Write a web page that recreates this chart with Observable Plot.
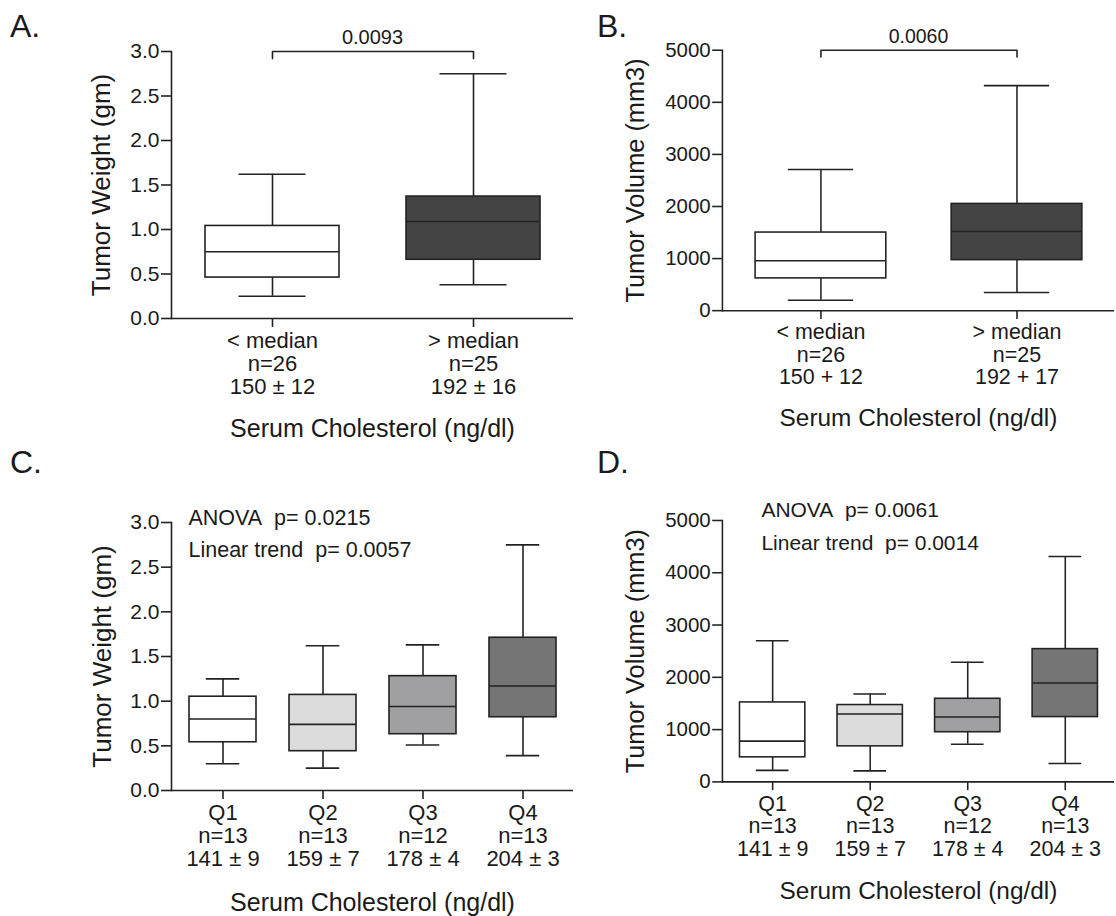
<!DOCTYPE html>
<html><head><meta charset="utf-8">
<script src="https://cdn.jsdelivr.net/npm/d3@7"></script>
<script src="https://cdn.jsdelivr.net/npm/@observablehq/plot@0.6"></script>
<style>
html,body{margin:0;padding:0;background:#fff;overflow:hidden}
#fig{position:relative;width:1116px;height:916px;overflow:hidden;font-family:"Liberation Sans",Arial,Helvetica,sans-serif;color:#1a1a1a;background:#fff}
.panel{position:absolute}
.panel svg{overflow:visible}
.letter{position:absolute;font-size:32px;line-height:1}
</style></head><body><div id="fig"></div>
<script>
// ---------- data ----------
const medianGroups = ["< median", "> median"];
const medianN = ["n=26", "n=25"];
const medianCholA = ["150 ± 12", "192 ± 16"];
const medianCholB = ["150 + 12", "192 + 17"];
const medianFills = ["#ffffff", "#444444"];

const weightA_min = [0.25, 0.38];
const weightA_q1  = [0.46, 0.66];
const weightA_med = [0.75, 1.09];
const weightA_q3  = [1.04, 1.37];
const weightA_max = [1.62, 2.75];

const volumeB_min = [200, 350];
const volumeB_q1  = [620, 970];
const volumeB_med = [960, 1520];
const volumeB_q3  = [1500, 2050];
const volumeB_max = [2710, 4320];

const quartGroups = ["Q1", "Q2", "Q3", "Q4"];
const quartN = ["n=13", "n=13", "n=12", "n=13"];
const quartChol = ["141 ± 9", "159 ± 7", "178 ± 4", "204 ± 3"];
const quartFills = ["#ffffff", "#dcdcdc", "#a0a0a2", "#757575"];

const weightC_min = [0.30, 0.25, 0.51, 0.39];
const weightC_q1  = [0.54, 0.44, 0.63, 0.82];
const weightC_med = [0.80, 0.74, 0.94, 1.17];
const weightC_q3  = [1.05, 1.07, 1.28, 1.71];
const weightC_max = [1.25, 1.62, 1.63, 2.75];

const volumeD_min = [220, 210, 720, 350];
const volumeD_q1  = [470, 680, 950, 1240];
const volumeD_med = [780, 1300, 1240, 1890];
const volumeD_q3  = [1520, 1470, 1590, 2540];
const volumeD_max = [2700, 1680, 2290, 4310];

const weightTicks = [0, 0.5, 1.0, 1.5, 2.0, 2.5, 3.0];
const volumeTicks = [0, 1000, 2000, 3000, 4000, 5000];

const pA = "0.0093", pB = "0.0060";
const bracketA = [3.0, 2.92];   // bracket top, end drop
const bracketB = [5000, 4870];
const anovaC = "ANOVA\u00a0 p= 0.0215", trendC = "Linear trend\u00a0 p= 0.0057";
const anovaD = "ANOVA\u00a0 p= 0.0061", trendD = "Linear trend\u00a0 p= 0.0014";

const xTitle = "Serum Cholesterol (ng/dl)";
const ink = "#222", sw = 1.6;

// ---------- panel builder ----------
function panel(o) {
  const data = o.groups.map((g, i) => ({g, min: o.min[i], q1: o.q1[i], med: o.med[i], q3: o.q3[i], max: o.max[i], fill: o.fills[i]}));
  const lab = new Map(o.groups.map((g, i) => [g, [g, o.n[i], o.chol[i]].join("\n")]));
  const step = (o.width - o.marginLeft - o.marginRight) / o.groups.length;
  const cap = step * (2 / 3) / 4;
  const marks = [
    Plot.ruleX(data, {x: "g", y1: "min", y2: "q1", stroke: ink, strokeWidth: sw}),
    Plot.ruleX(data, {x: "g", y1: "q3", y2: "max", stroke: ink, strokeWidth: sw}),
    Plot.tickY(data, {x: "g", y: "min", insetLeft: cap, insetRight: cap, stroke: ink, strokeWidth: sw}),
    Plot.tickY(data, {x: "g", y: "max", insetLeft: cap, insetRight: cap, stroke: ink, strokeWidth: sw}),
    Plot.barY(data, {x: "g", y1: "q1", y2: "q3", fill: "fill", stroke: ink, strokeWidth: sw}),
    Plot.tickY(data, {x: "g", y: "med", stroke: ink, strokeWidth: sw}),
    Plot.frame({anchor: "left", stroke: ink, strokeWidth: sw}),
    Plot.ruleY([0], {stroke: ink, strokeWidth: sw}),
    Plot.axisY({ticks: o.yTicks, tickFormat: o.yFormat, tickSize: 10, tickPadding: 2, fontSize: 21, label: null, stroke: ink, strokeWidth: sw}),
    Plot.axisX({tickSize: 9, tickPadding: 4, tickFormat: d => lab.get(d), fontSize: 22, lineHeight: 1.05, label: null, stroke: ink, strokeWidth: sw}),
    Plot.text([o.yLabel], {frameAnchor: "left", textAnchor: "middle", lineAnchor: "middle", dx: o.yLabelDx, rotate: -90, fontSize: 26}),
    Plot.text([xTitle], {frameAnchor: "bottom", lineAnchor: "middle", dy: o.xLabelDy, fontSize: 25}),
    ...(o.extra || [])
  ];
  const el = Plot.plot({
    width: o.width, height: o.height,
    marginLeft: o.marginLeft, marginRight: o.marginRight, marginTop: o.marginTop, marginBottom: o.marginBottom,
    x: {type: "band", domain: o.groups, paddingInner: 1 / 3, paddingOuter: 1 / 6},
    y: {domain: o.yDomain},
    style: {fontFamily: '"Liberation Sans", Arial, Helvetica, sans-serif', color: "#1a1a1a", background: "transparent", overflow: "visible"},
    marks
  });
  const wrap = document.createElement("div");
  wrap.className = "panel";
  wrap.style.left = o.left + "px";
  wrap.style.top = o.top + "px";
  wrap.appendChild(el);
  document.getElementById("fig").appendChild(wrap);
}

function bracket(groups, b, p) {
  const pts = [
    {x: groups[0], y: b[1]}, {x: groups[0], y: b[0]},
    {x: groups[1], y: b[0]}, {x: groups[1], y: b[1]}
  ];
  return [
    Plot.line(pts, {x: "x", y: "y", stroke: ink, strokeWidth: sw}),
    Plot.text([p], {frameAnchor: "top", lineAnchor: "middle", dy: -14, fontSize: 20})
  ];
}

function stats(label, dx, dy1, dy2) {
  return [
    Plot.text([label[0]], {frameAnchor: "top-left", textAnchor: "start", lineAnchor: "middle", dx, dy: dy1, fontSize: 21.5}),
    Plot.text([label[1]], {frameAnchor: "top-left", textAnchor: "start", lineAnchor: "middle", dx, dy: dy2, fontSize: 21.5})
  ];
}

const f1 = d3.format(".1f"), f0 = d3.format("d");

panel({left: 0, top: 0, width: 580, height: 450, marginLeft: 171, marginRight: 7, marginTop: 51, marginBottom: 132,
  groups: medianGroups, n: medianN, chol: medianCholA, fills: medianFills,
  min: weightA_min, q1: weightA_q1, med: weightA_med, q3: weightA_q3, max: weightA_max,
  yDomain: [0, 3], yTicks: weightTicks, yFormat: f1, yLabel: "Tumor Weight (gm)", yLabelDx: -70, xLabelDy: 110,
  extra: bracket(medianGroups, bracketA, pA)});

panel({left: 560, top: 0, width: 570, height: 450, marginLeft: 166, marginRight: 2, marginTop: 51, marginBottom: 132,
  groups: medianGroups, n: medianN, chol: medianCholB, fills: medianFills,
  min: volumeB_min, q1: volumeB_q1, med: volumeB_med, q3: volumeB_q3, max: volumeB_max,
  yDomain: [0, 5000], yTicks: volumeTicks, yFormat: f0, yLabel: "Tumor Volume (mm3)", yLabelDx: -89, xLabelDy: 110,
  extra: bracket(medianGroups, bracketB, pB)});

panel({left: 0, top: 440, width: 580, height: 476, marginLeft: 171, marginRight: 7, marginTop: 82, marginBottom: 126,
  groups: quartGroups, n: quartN, chol: quartChol, fills: quartFills,
  min: weightC_min, q1: weightC_q1, med: weightC_med, q3: weightC_q3, max: weightC_max,
  yDomain: [0, 3], yTicks: weightTicks, yFormat: f1, yLabel: "Tumor Weight (gm)", yLabelDx: -69, xLabelDy: 112,
  extra: stats([anovaC, trendC], 17, -4, 28)});

panel({left: 560, top: 440, width: 570, height: 476, marginLeft: 166, marginRight: 2, marginTop: 82, marginBottom: 126,
  groups: quartGroups, n: quartN, chol: quartChol, fills: quartFills,
  min: volumeD_min, q1: volumeD_q1, med: volumeD_med, q3: volumeD_q3, max: volumeD_max,
  yDomain: [0, 5000], yTicks: volumeTicks, yFormat: f0, yLabel: "Tumor Volume (mm3)", yLabelDx: -89, xLabelDy: 112,
  extra: stats([anovaD, trendD], 40, -10, 23)});

// panel letters
[["A.", 10, 10], ["B.", 597, 10], ["C.", 10, 446], ["D.", 597, 446]].forEach(([t, x, y]) => {
  const d = document.createElement("div");
  d.className = "letter";
  d.textContent = t;
  d.style.left = x + "px";
  d.style.top = y + "px";
  document.getElementById("fig").appendChild(d);
});
</script></body></html>
